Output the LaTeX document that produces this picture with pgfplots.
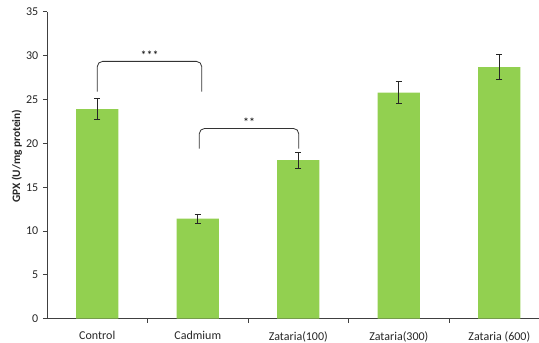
\documentclass[border=0pt]{standalone}
\usepackage{fontspec}
\setmainfont{Carlito}
\usepackage{pgfplots}
\pgfplotsset{compat=1.18}
\definecolor{barg}{HTML}{92D050}
\begin{document}
\begin{tikzpicture}
\begin{axis}[
  scale only axis,
  width=369pt, height=230.1pt,
  xmin=-0.5, xmax=4.395,
  ymin=0, ymax=35,
  axis lines*=left,
  axis line style={draw=black!75, line width=0.7pt},
  ytick={0,5,...,35},
  xtick={0,1,2,3,4},
  xticklabels={Control,Cadmium,Zataria(100),Zataria(300),Zataria (600)},
  major x tick style={draw=none},
  minor xtick={0.5,1.5,2.5,3.5,4.5},
  tick align=outside,
  major tick length=3pt, minor tick length=3pt,
  tick style={black!75, line width=0.6pt},
  ticklabel style={font=\fontsize{9}{11}\selectfont, text=black!85},
  /pgf/number format/assume math mode=true,
  xticklabel style={yshift=-3pt},
  ylabel={\textbf{GPX (U/mg protein)}},
  ylabel style={at={(rel axis cs:-0.061,0.53)}, anchor=center, font=\fontsize{8.5}{10}\selectfont, text=black!85},
  clip=false,
]
\addplot[ybar, bar width=0.42, fill=barg, draw=none,
  error bars/.cd, y dir=both, y explicit,
  error mark=-,
  error bar style={black!85, line width=0.5pt},
  error mark options={rotate=90, black!85, line width=0.5pt, mark size=2.3pt}]
  coordinates {
  (0,23.9) +- (0,1.2)
  (1,11.4) +- (0,0.55)
  (2,18.1) +- (0,0.9)
  (3,25.8) +- (0,1.25)
  (4,28.7) +- (0,1.45)
  };
\draw[black!80, line width=0.6pt, rounded corners=4pt]
  (axis cs:0,25.9) -- (axis cs:0,29.35) -- (axis cs:1.04,29.35) -- (axis cs:1.04,25.9);
\node[font=\fontsize{9}{10}\selectfont, inner sep=0pt, anchor=south] at (axis cs:0.52,29.5) {***};
\draw[black!80, line width=0.6pt, rounded corners=4pt]
  (axis cs:1.015,19.4) -- (axis cs:1.015,21.7) -- (axis cs:2.005,21.7) -- (axis cs:2.005,19.4);
\node[font=\fontsize{9}{10}\selectfont, inner sep=0pt, anchor=south] at (axis cs:1.51,21.85) {**};
\coordinate (bl) at (rel axis cs:0,0);
\coordinate (tr) at (rel axis cs:1,1);
\end{axis}
\pgfresetboundingbox
\path ([shift={(-35.25pt,-18.2pt)}]bl) rectangle ([shift={(0pt,8.9pt)}]tr);
\end{tikzpicture}
\end{document}
